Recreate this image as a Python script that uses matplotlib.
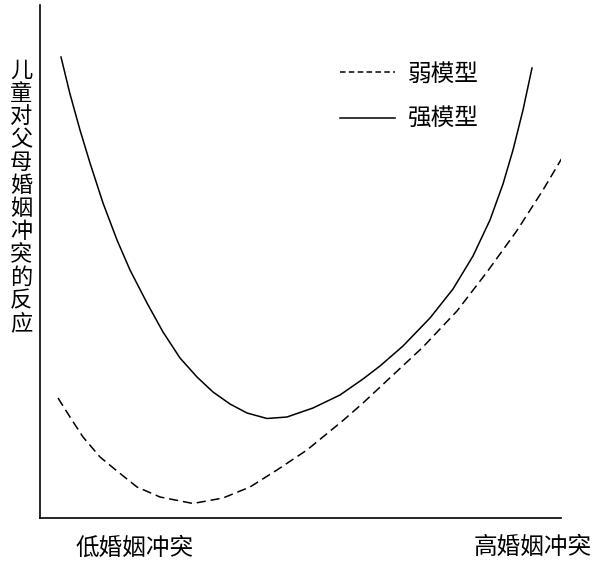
import matplotlib
matplotlib.use("Agg")
import matplotlib.pyplot as plt
from matplotlib.lines import Line2D

plt.rcParams["font.family"] = ["Noto Sans CJK SC", "DejaVu Sans"]

# values (x: conflict level, y: child's reaction), arbitrary units
weak_x = [18, 30, 43, 60, 77, 97, 120, 153, 183, 210, 237, 267, 303, 323, 353, 383, 417, 447, 477, 503, 525]
weak_y = [120, 101, 81, 61, 47, 31, 21, 14.5, 20, 31, 48, 68, 97.5, 115, 143, 171, 207, 246, 287.5, 328, 365]

strong_x = [21, 30, 40, 50, 63, 77, 90, 107, 123, 140, 157, 173, 190, 207, 227, 247, 273, 300, 323,
            340, 363, 390, 413, 433, 450, 463, 473, 483, 492]
strong_y = [461, 424, 388, 355, 315, 278, 248, 215, 186, 160, 141, 126, 114, 105, 99.5, 101, 110, 123, 139,
            152, 172, 200, 229, 262, 298, 334, 368, 408, 450]

y_label = "儿童对父母婚姻冲突的反应"
x_low = "低婚姻冲突"
x_high = "高婚姻冲突"
legend_labels = ["弱模型", "强模型"]


def main():
    fig = plt.figure(figsize=(5.92, 5.65), dpi=100)
    ax = fig.add_axes([40 / 592, 47 / 565, 521 / 592, 513 / 565])

    ax.plot(weak_x, weak_y, color="black", lw=1.1, dashes=(6, 3.2))
    ax.plot(strong_x, strong_y, color="black", lw=1.1, solid_joinstyle="round")

    ax.set_xlim(0, 521)
    ax.set_ylim(0, 513)
    ax.set_xticks([])
    ax.set_yticks([])
    for side in ["top", "right"]:
        ax.spines[side].set_visible(False)
    for side in ["left", "bottom"]:
        ax.spines[side].set_linewidth(1.2)

    handles = [
        Line2D([], [], color="black", lw=1.1, dashes=(3.6, 2.2)),
        Line2D([], [], color="black", lw=1.1),
    ]
    ax.legend(handles, legend_labels, loc="upper left", bbox_to_anchor=(0.576, 0.888),
              frameon=False, fontsize=17, handlelength=2.33, handletextpad=0.55,
              labelspacing=0.95, borderpad=0, borderaxespad=0)

    fig.text(21 / 592, 1 - 197 / 565, "\n".join(y_label), ha="center", va="center",
             fontsize=16, linespacing=1.0)
    fig.text(134.5 / 592, 1 - 548 / 565, x_low, ha="center", va="center", fontsize=17)
    fig.text(532.5 / 592, 1 - 548 / 565, x_high, ha="center", va="center", fontsize=17)

    fig.savefig("out.png", dpi=100)


if __name__ == "__main__":
    main()
